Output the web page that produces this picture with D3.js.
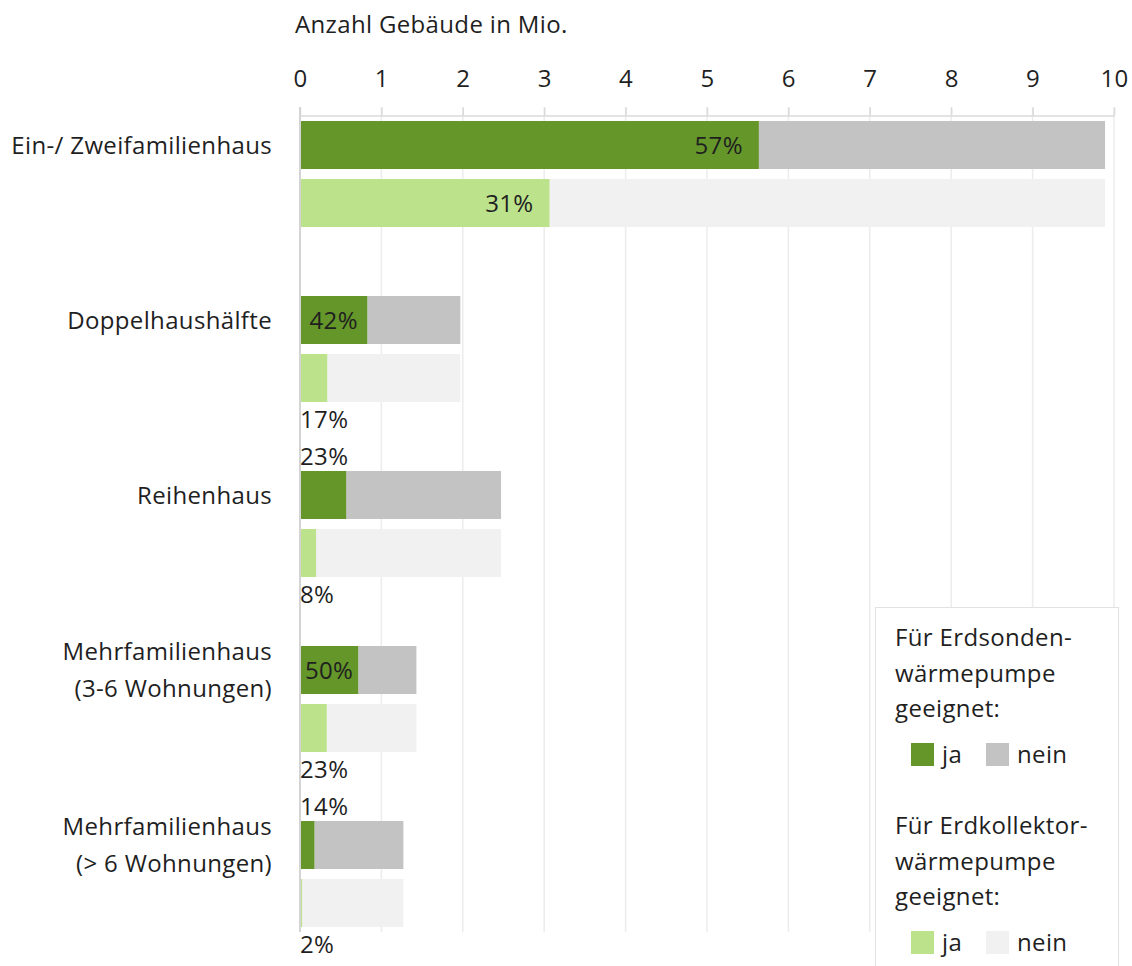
<!DOCTYPE html>
<html lang="de">
<head>
<meta charset="utf-8">
<title>Gebäude und Eignung für Erdwärmepumpen</title>
<script src="https://cdn.jsdelivr.net/npm/d3@7"></script>
<style>
  html, body { margin: 0; padding: 0; background: #ffffff; }
  svg { display: block; font-family: "Open Sans", "Noto Sans", sans-serif; letter-spacing: 0.35px; }
  text { fill: #1f1f1f; }
</style>
</head>
<body>
<svg id="chart" width="1132" height="966"></svg>
<script>
// Gebäudetypen (Zeilen des Diagramms), Beschriftung ggf. mehrzeilig
const categories = [
  ["Ein-/ Zweifamilienhaus"],
  ["Doppelhaushälfte"],
  ["Reihenhaus"],
  ["Mehrfamilienhaus", "(3-6 Wohnungen)"],
  ["Mehrfamilienhaus", "(> 6 Wohnungen)"]
];
// Anzahl Gebäude je Typ in Mio.
const totals = [9.89, 1.97, 2.47, 1.43, 1.27];
// Anteil geeignet für Erdsonden-Wärmepumpe (%)
const shareSonde = [57, 42, 23, 50, 14];
// Anteil geeignet für Erdkollektor-Wärmepumpe (%)
const shareKollektor = [31, 17, 8, 23, 2];
// Achsenbeschriftung
const xTicks = [0, 1, 2, 3, 4, 5, 6, 7, 8, 9, 10];
const axisTitle = "Anzahl Gebäude in Mio.";
const legendBlocks = [
  { title: ["Für Erdsonden-", "wärmepumpe", "geeignet:"], key: "sonde" },
  { title: ["Für Erdkollektor-", "wärmepumpe", "geeignet:"], key: "kollektor" }
];

const colors = {
  sonde: { ja: "#64962a", nein: "#c3c3c3" },
  kollektor: { ja: "#bce28c", nein: "#f1f1f1" }
};

const svg = d3.select("#chart");
const fontSize = 24;
const capMid = 8.5;

const x = d3.scaleLinear().domain([0, 10]).range([300, 1114]);
const y = d3.scaleBand()
  .domain(d3.range(categories.length))
  .range([121, 927])
  .paddingInner(69 / 175)
  .paddingOuter(0);
const ySub = d3.scaleBand()
  .domain(["sonde", "kollektor"])
  .range([0, y.bandwidth()])
  .paddingInner(10 / 58)
  .paddingOuter(0);

const gridTop = 107, gridBottom = 932;

// Gitterlinien
svg.append("g")
  .selectAll("line")
  .data(xTicks.filter(d => d > 0))
  .join("line")
  .attr("x1", d => x(d)).attr("x2", d => x(d))
  .attr("y1", gridTop).attr("y2", gridBottom)
  .attr("stroke", "#ececec").attr("stroke-width", 1.5);

// Obere Achse mit Teilstrichen
const axisTop = d3.axisTop(x)
  .tickValues(xTicks)
  .tickSize(8)
  .tickSizeOuter(0)
  .tickPadding(21)
  .tickFormat(d3.format("d"));
const gAxis = svg.append("g")
  .attr("transform", "translate(0,115.5)")
  .call(axisTop);
gAxis.select(".domain").attr("stroke", "#dadada").attr("stroke-width", 1.5);
gAxis.selectAll(".tick line").attr("stroke", "#dadada").attr("stroke-width", 1.5);
gAxis.selectAll(".tick text")
  .attr("font-size", fontSize)
  .attr("font-family", "Open Sans, Noto Sans, sans-serif")
  .attr("fill", "#1f1f1f");

// Achsentitel
svg.append("text")
  .attr("x", 295).attr("y", 33)
  .attr("font-size", fontSize)
  .text(axisTitle);

// Datensätze je Zeile und Serie
const rows = [];
categories.forEach((c, i) => {
  rows.push({ i, key: "sonde", total: totals[i], share: shareSonde[i] });
  rows.push({ i, key: "kollektor", total: totals[i], share: shareKollektor[i] });
});
rows.forEach(r => {
  r.ja = r.total * r.share / 100;
  r.y0 = y(r.i) + ySub(r.key);
  r.h = ySub.bandwidth();
});

const barG = svg.append("g");
// "nein"-Anteil
barG.selectAll("rect.nein")
  .data(rows)
  .join("rect")
  .attr("class", "nein")
  .attr("x", d => x(d.ja))
  .attr("width", d => x(d.total) - x(d.ja))
  .attr("y", d => d.y0)
  .attr("height", d => d.h)
  .attr("fill", d => colors[d.key].nein);
// "ja"-Anteil
barG.selectAll("rect.ja")
  .data(rows)
  .join("rect")
  .attr("class", "ja")
  .attr("x", x(0))
  .attr("width", d => x(d.ja) - x(0))
  .attr("y", d => d.y0)
  .attr("height", d => d.h)
  .attr("fill", d => colors[d.key].ja);

// Linke Achslinie
svg.append("line")
  .attr("x1", 300).attr("x2", 300)
  .attr("y1", gridTop).attr("y2", gridBottom)
  .attr("stroke", "#d4d4d4").attr("stroke-width", 2);

// Prozentbeschriftungen
const labelG = svg.append("g");
rows.forEach(r => {
  const t = labelG.append("text")
    .attr("font-size", fontSize)
    .text(r.share + "%");
  const w = t.node().getComputedTextLength();
  const x0 = x(0), x1 = x(r.ja);
  const bw = x1 - x0;
  const cy = r.y0 + r.h / 2 + capMid;
  if (bw >= w + 32) {
    t.attr("x", x1 - 16).attr("y", cy).attr("text-anchor", "end");
  } else if (bw >= w + 8) {
    t.attr("x", (x0 + x1) / 2).attr("y", cy).attr("text-anchor", "middle");
  } else if (r.key === "sonde") {
    t.attr("x", 300).attr("y", r.y0 - 6).attr("text-anchor", "start");
  } else {
    t.attr("x", 300).attr("y", r.y0 + r.h + 26).attr("text-anchor", "start");
  }
});

// Kategorienbeschriftung
const catG = svg.append("g");
categories.forEach((lines, i) => {
  const cy = y(i) + ySub("sonde") + ySub.bandwidth() / 2;
  const t = catG.append("text")
    .attr("text-anchor", "end")
    .attr("font-size", fontSize);
  lines.forEach((ln, j) => {
    t.append("tspan")
      .attr("x", 272)
      .attr("y", cy + capMid + (j - (lines.length - 1) / 2) * 37)
      .text(ln);
  });
});

// Legende
const lg = svg.append("g");
lg.append("rect")
  .attr("x", 875.5).attr("y", 607.5)
  .attr("width", 243).attr("height", 400)
  .attr("fill", "#ffffff")
  .attr("stroke", "#e2e2e2").attr("stroke-width", 1);

legendBlocks.forEach((b, bi) => {
  const base = 646 + bi * 188;
  b.title.forEach((ln, j) => {
    lg.append("text")
      .attr("x", 895).attr("y", base + j * 35.7)
      .attr("font-size", fontSize)
      .text(ln);
  });
  const sy = base + 97;
  const items = [
    { label: "ja", color: colors[b.key].ja, sx: 911, tx: 942 },
    { label: "nein", color: colors[b.key].nein, sx: 986, tx: 1017 }
  ];
  items.forEach(it => {
    lg.append("rect")
      .attr("x", it.sx).attr("y", sy)
      .attr("width", 23).attr("height", 23)
      .attr("fill", it.color);
    lg.append("text")
      .attr("x", it.tx).attr("y", sy + 19.5)
      .attr("font-size", fontSize)
      .text(it.label);
  });
});
</script>
</body>
</html>
